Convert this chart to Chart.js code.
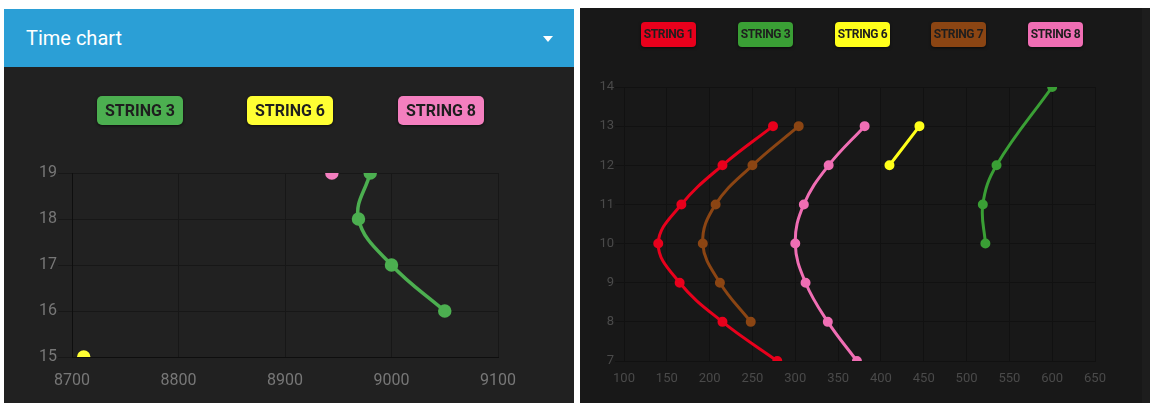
<!DOCTYPE html>
<html>
<head>
<meta charset="utf-8">
<script src="https://cdn.jsdelivr.net/npm/chart.js@4"></script>
<style>
    body { margin: 0; background: #fff; width: 1150px; height: 403px; overflow: hidden; position: relative; font-family: Roboto, sans-serif; }
    .panel { position: absolute; }
    #leftPanel { left: 4px; top: 9px; width: 570px; height: 394px; background: #212121; }
    #leftHeader { height: 58px; background: #2b9fd6; color: #fff; font-size: 20px; line-height: 58px; padding-left: 22px; position: relative; }
    #leftHeader .caret { position: absolute; left: 539px; top: 27px; width: 0; height: 0; border-left: 5px solid transparent; border-right: 5px solid transparent; border-top: 6px solid #fff; }
    #rightPanel { left: 580px; top: 8px; width: 562px; height: 395px; background: #181818; }
    #rightEdge { left: 1142px; top: 8px; width: 8px; height: 395px; background: #1d1d1d; }
    .chartBox { position: absolute; left: 0; }
    .legend { position: absolute; left: 0; top: 0; width: 100%; }
    .legend div { position: absolute; font-weight: bold; color: #1e1e1e; text-align: center; white-space: nowrap; box-shadow: 0 1px 3px rgba(0,0,0,0.6); }
    #leftLegend div { top: 29px; width: 86px; height: 29px; line-height: 29px; font-size: 16px; border-radius: 5px; }
    #rightLegend div { top: 14px; width: 55px; height: 25px; line-height: 25px; font-size: 12px; letter-spacing: -0.4px; border-radius: 4px; }
</style>
</head>
<body>
<div class="panel" id="leftPanel">
    <div id="leftHeader">Time chart<span class="caret"></span></div>
    <div class="chartBox" style="top:58px;width:570px;height:336px;">
        <div class="legend" id="leftLegend"></div>
        <canvas id="timeChart"></canvas>
    </div>
</div>
<div class="panel" id="rightPanel">
    <div class="chartBox" style="top:0;width:562px;height:395px;">
        <div class="legend" id="rightLegend"></div>
        <canvas id="stringChart"></canvas>
    </div>
</div>
<div class="panel" id="rightEdge"></div>
<script>
// Left chart: time chart (x = time, y = position)
const leftLabels = ['STRING 3', 'STRING 6', 'STRING 8'];
const leftColors = ['#4caf50', '#ffff33', '#f47fbf'];
const string3TimeX = [8980, 8969, 9000, 9050];
const string3TimeY = [19, 18, 17, 16];
const string6TimeX = [8711];
const string6TimeY = [15];
const string8TimeX = [8944];
const string8TimeY = [19];
const leftXTicks = [8700, 8800, 8900, 9000, 9100];
const leftYTicks = [15, 16, 17, 18, 19];

// Right chart: all strings
const rightLabels = ['STRING 1', 'STRING 3', 'STRING 6', 'STRING 7', 'STRING 8'];
const rightColors = ['#e8001c', '#3a9f35', '#ffff1a', '#8b4513', '#f06eb4'];
const string1X = [279, 215, 165, 140, 167, 215, 274];
const string1Y = [7, 8, 9, 10, 11, 12, 13];
const string3X = [522, 519, 535, 600];
const string3Y = [10, 11, 12, 14];
const string6X = [410, 445];
const string6Y = [12, 13];
const string7X = [248, 212, 192, 207, 250, 304];
const string7Y = [8, 9, 10, 11, 12, 13];
const string8X = [372, 338, 312, 300, 310, 339, 381];
const string8Y = [7, 8, 9, 10, 11, 12, 13];
const rightXTicks = [100, 150, 200, 250, 300, 350, 400, 450, 500, 550, 600, 650];
const rightYTicks = [7, 8, 9, 10, 11, 12, 13, 14];

function toPoints(xs, ys) {
    return xs.map(function (x, i) { return { x: x, y: ys[i] }; });
}

function buildLegend(id, labels, colors, lefts) {
    const box = document.getElementById(id);
    labels.forEach(function (label, i) {
        const d = document.createElement('div');
        d.textContent = label;
        d.style.background = colors[i];
        d.style.left = lefts[i] + 'px';
        box.appendChild(d);
    });
}

buildLegend('leftLegend', leftLabels, leftColors, [93, 243, 394]);
buildLegend('rightLegend', rightLabels, rightColors, [61, 158, 255, 351, 448]);

function fixedTicks(list) {
    return function (scale) {
        scale.ticks = list.map(function (v) { return { value: v }; });
    };
}

function plainLabel(value) {
    return String(value);
}

// cut points off at the plot edge, like the screenshots
const clipToArea = {
    id: 'clipToArea',
    beforeDatasetsDraw: function (chart) {
        const a = chart.chartArea;
        chart.ctx.save();
        chart.ctx.beginPath();
        chart.ctx.rect(a.left, a.top, a.right - a.left, a.bottom - a.top);
        chart.ctx.clip();
    },
    afterDatasetsDraw: function (chart) {
        chart.ctx.restore();
    }
};

function makeDataset(label, color, points, lineW, radius) {
    return {
        label: label,
        data: points,
        showLine: true,
        borderColor: color,
        backgroundColor: color,
        pointBackgroundColor: color,
        pointBorderColor: color,
        borderWidth: lineW,
        pointRadius: radius,
        pointHoverRadius: radius + 1,
        tension: 0.4,
        clip: 0
    };
}

new Chart(document.getElementById('timeChart'), {
    type: 'scatter',
    plugins: [clipToArea],
    data: {
        datasets: [
            makeDataset(leftLabels[0], leftColors[0], toPoints(string3TimeX, string3TimeY), 3.5, 5),
            makeDataset(leftLabels[1], leftColors[1], toPoints(string6TimeX, string6TimeY), 3.5, 5),
            makeDataset(leftLabels[2], leftColors[2], toPoints(string8TimeX, string8TimeY), 3.5, 5)
        ]
    },
    options: {
        responsive: true,
        maintainAspectRatio: false,
        animation: false,
        layout: { padding: { left: 0, top: 106, right: 76, bottom: 0 } },
        plugins: { legend: { display: false }, tooltip: { enabled: false } },
        scales: {
            x: {
                type: 'linear',
                min: 8700,
                max: 9100,
                afterBuildTicks: fixedTicks(leftXTicks),
                afterFit: function (scale) { scale.height = 46; },
                grid: { color: '#171717', drawTicks: false },
                border: { color: '#0e0e0e' },
                ticks: { color: '#777', padding: 14, callback: plainLabel, font: { family: 'Roboto', size: 16 } }
            },
            y: {
                type: 'linear',
                min: 15,
                max: 19,
                afterBuildTicks: fixedTicks(leftYTicks),
                afterFit: function (scale) { scale.width = 68; },
                grid: { color: '#171717', tickLength: 14 },
                border: { color: '#0e0e0e' },
                ticks: { color: '#777', padding: 1, callback: plainLabel, font: { family: 'Roboto', size: 16 } }
            }
        }
    }
});

new Chart(document.getElementById('stringChart'), {
    type: 'scatter',
    plugins: [clipToArea],
    data: {
        datasets: [
            makeDataset(rightLabels[0], rightColors[0], toPoints(string1X, string1Y), 3, 3.5),
            makeDataset(rightLabels[1], rightColors[1], toPoints(string3X, string3Y), 3, 3.5),
            makeDataset(rightLabels[2], rightColors[2], toPoints(string6X, string6Y), 3, 3.5),
            makeDataset(rightLabels[3], rightColors[3], toPoints(string7X, string7Y), 3, 3.5),
            makeDataset(rightLabels[4], rightColors[4], toPoints(string8X, string8Y), 3, 3.5)
        ]
    },
    options: {
        responsive: true,
        maintainAspectRatio: false,
        animation: false,
        layout: { padding: { left: 0, top: 79, right: 47, bottom: 0 } },
        plugins: { legend: { display: false }, tooltip: { enabled: false } },
        scales: {
            x: {
                type: 'linear',
                min: 100,
                max: 650,
                afterBuildTicks: fixedTicks(rightXTicks),
                afterFit: function (scale) { scale.height = 42; },
                grid: { color: '#111', drawTicks: false },
                border: { color: '#111' },
                ticks: { color: '#4a4a4a', padding: 10, callback: plainLabel, font: { family: 'Roboto', size: 13 } }
            },
            y: {
                type: 'linear',
                min: 7,
                max: 14,
                afterBuildTicks: fixedTicks(rightYTicks),
                afterFit: function (scale) { scale.width = 44; },
                grid: { color: '#111', tickLength: 9 },
                border: { color: '#111' },
                ticks: { color: '#4a4a4a', padding: 1, callback: plainLabel, font: { family: 'Roboto', size: 13 } }
            }
        }
    }
});
</script>
</body>
</html>
